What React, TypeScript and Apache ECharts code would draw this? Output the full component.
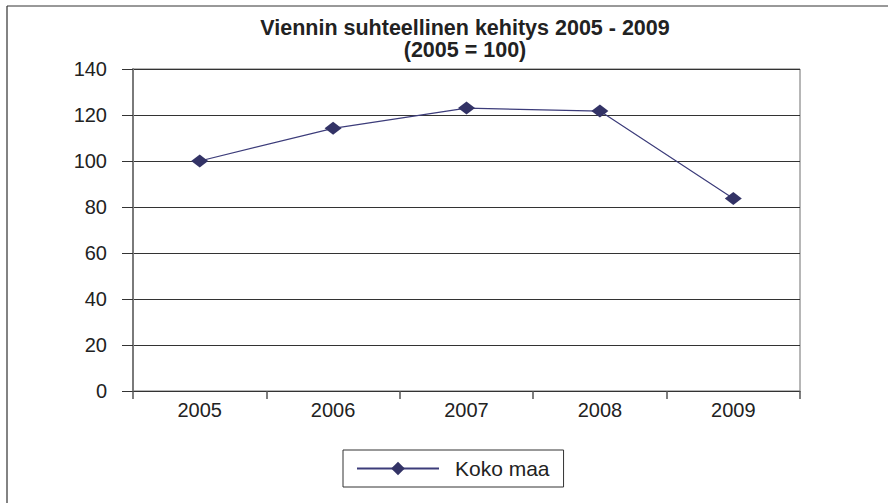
import React, { useEffect, useRef } from "react";
import * as echarts from "echarts";

const categories = ["2005", "2006", "2007", "2008", "2009"];
const kokoMaa = [100, 114.2, 123.0, 121.7, 83.7];
const yTicks = [0, 20, 40, 60, 80, 100, 120, 140];
const titleLines = ["Viennin suhteellinen kehitys 2005 - 2009", "(2005 = 100)"];
const seriesName = "Koko maa";

const FONT = 'Arial, "Liberation Sans", sans-serif';

export default function App() {
  const ref = useRef<HTMLDivElement>(null);
  useEffect(() => {
    if (!ref.current) return;
    const chart = echarts.init(ref.current, undefined, { renderer: "svg" });
    const titleTexts = titleLines.map((t, i) => ({
      type: "text",
      x: 465,
      y: 20 + i * 22,
      style: {
        text: t,
        align: "center",
        verticalAlign: "top",
        font: `bold 21.5px ${FONT}`,
        lineHeight: 16,
        fill: "#222222",
      },
    }));
    chart.setOption({
      animation: false,
      backgroundColor: "#ffffff",
      textStyle: { fontFamily: FONT },
      grid: {
        left: 133,
        right: 88,
        top: 69,
        bottom: 112,
        show: true,
        borderColor: "#6e6e6e",
        borderWidth: 1,
        backgroundColor: "transparent",
      },
      graphic: [
        {
          type: "line",
          shape: { x1: 7, y1: 6, x2: 7, y2: 503 },
          style: { stroke: "#5a5a5a", lineWidth: 1.5 },
        },
        {
          type: "line",
          shape: { x1: 7, y1: 6, x2: 888, y2: 6 },
          style: { stroke: "#333333", lineWidth: 1 },
        },
        ...titleTexts,
      ],
      legend: {
        left: 343,
        top: 450,
        width: 223,
        orient: "horizontal",
        borderColor: "#333333",
        borderWidth: 1,
        padding: [8, 14, 8, 13],
        itemWidth: 82,
        itemHeight: 17,
        textStyle: {
          fontSize: 21,
          color: "#222222",
          fontFamily: FONT,
          padding: [0, 0, 0, 11],
        },
        data: [seriesName],
      },
      xAxis: {
        type: "category",
        data: categories,
        boundaryGap: true,
        axisLine: { lineStyle: { color: "#333333", width: 1 } },
        axisTick: {
          show: true,
          length: 8,
          alignWithLabel: false,
          lineStyle: { color: "#555555", width: 1.5 },
        },
        axisLabel: { fontSize: 20, color: "#222222", margin: 9, fontFamily: FONT },
        splitLine: { show: false },
      },
      yAxis: {
        type: "value",
        min: yTicks[0],
        max: yTicks[yTicks.length - 1],
        interval: 20,
        axisLine: { show: true, lineStyle: { color: "#7a7a7a", width: 2 } },
        axisTick: { show: true, length: 11, lineStyle: { color: "#333333", width: 1 } },
        axisLabel: { fontSize: 20, color: "#222222", margin: 26, fontFamily: FONT },
        splitLine: { show: true, lineStyle: { color: "#333333", width: 1 } },
      },
      series: [
        {
          name: seriesName,
          type: "line",
          data: kokoMaa,
          symbol: "diamond",
          symbolSize: [17, 13],
          lineStyle: { color: "#3c3c7a", width: 1.2 },
          itemStyle: { color: "#333366" },
        },
      ],
    });
    return () => chart.dispose();
  }, []);
  return (
    <div
      ref={ref}
      style={{ position: "absolute", left: 0, top: 0, width: 888, height: 503 }}
    />
  );
}
